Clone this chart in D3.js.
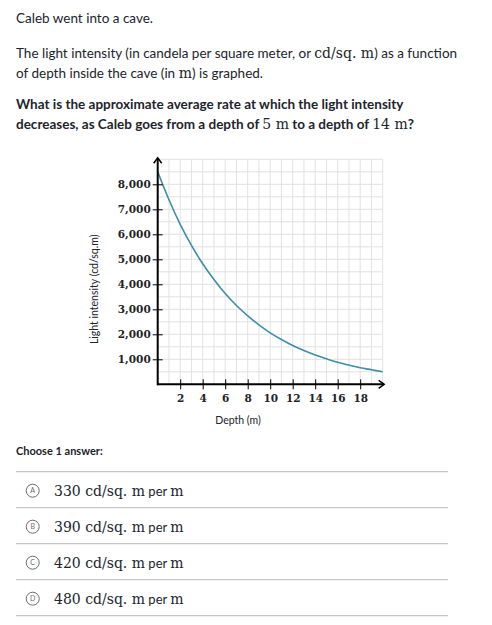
<!DOCTYPE html>
<html>
<head>
<meta charset="utf-8">
<script src="https://cdn.jsdelivr.net/npm/d3@7"></script>
<style>
  body { margin: 0; background: #fff; }
  text { font-family: Lato, "Open Sans", sans-serif; }
  .math { font-family: "DejaVu Serif", serif; }
</style>
</head>
<body>
<div id="container"></div>
<script>
/* CONSTANTS AND GLOBALS */
const width = 492, height = 625;

// depth (m) and light intensity (cd/sq. m)
const depths = [0, 1, 2, 3, 4, 5, 6, 7, 8, 9, 10, 11, 12, 13, 14, 15, 16, 17, 18, 19, 20];
const intensity = [8500, 7380, 6400, 5560, 4820, 4190, 3630, 3150, 2740, 2380, 2060,
                   1790, 1550, 1350, 1170, 1020, 880, 770, 660, 580, 500];
const xTicks = [2, 4, 6, 8, 10, 12, 14, 16, 18];
const yTicks = [1000, 2000, 3000, 4000, 5000, 6000, 7000, 8000];
const answerLetters = ["A", "B", "C", "D"];
const answerValues = ["330", "390", "420", "480"];

const svg = d3.select("#container").append("svg")
  .attr("width", width)
  .attr("height", height);

/* QUESTION TEXT */
function line(y, parts, weight) {
  const t = svg.append("text")
    .attr("x", 16).attr("y", y)
    .attr("font-size", 13.5)
    .attr("fill", "#21242c")
    .attr("font-weight", weight || "normal");
  parts.forEach(p => {
    t.append("tspan")
      .attr("class", p.m ? "math" : null)
      .attr("font-size", p.m ? 14 : null)
      .attr("font-weight", p.m ? "normal" : null)
      .text(p.t);
  });
}
line(23, [{t: "Caleb went into a cave."}]);
line(58, [{t: "The light intensity (in candela per square meter, or "}, {t: "cd/sq. m", m: true}, {t: ") as a function"}]);
line(78, [{t: "of depth inside the cave (in "}, {t: "m", m: true}, {t: ") is graphed."}]);
line(109, [{t: "What is the approximate average rate at which the light intensity"}], "bold");
line(129, [{t: "decreases, as Caleb goes from a depth of "}, {t: "5 m", m: true}, {t: " to a depth of "}, {t: "14 m", m: true}, {t: "?"}], "bold");

/* SCALES */
const x = d3.scaleLinear().domain([0, 20]).range([157.7, 382.7]);
const y = d3.scaleLinear().domain([0, 9000]).range([384.3, 159.3]);

/* GRID */
const grid = svg.append("g").attr("stroke", "#e2e2e2").attr("stroke-width", 1);
grid.selectAll("line.v")
  .data(d3.range(1, 21))
  .join("line")
  .attr("class", "v")
  .attr("x1", d => x(d)).attr("x2", d => x(d))
  .attr("y1", y(0)).attr("y2", y(9000));
grid.selectAll("line.h")
  .data(d3.range(500, 9001, 500))
  .join("line")
  .attr("class", "h")
  .attr("x1", x(0)).attr("x2", x(20))
  .attr("y1", d => y(d)).attr("y2", d => y(d));

/* CURVE */
svg.append("path")
  .datum(depths.map((d, i) => [d, intensity[i]]))
  .attr("fill", "none")
  .attr("stroke", "#3d8ea6")
  .attr("stroke-width", 1.6)
  .attr("d", d3.line().x(d => x(d[0])).y(d => y(d[1])).curve(d3.curveCatmullRom));

/* AXES */
const xAxis = svg.append("g")
  .attr("transform", `translate(0,${y(0)})`)
  .call(d3.axisBottom(x).tickValues(xTicks).tickSize(0).tickPadding(10));
xAxis.select(".domain").remove();
xAxis.selectAll("text")
  .attr("class", "math")
  .attr("font-size", 10.5).attr("font-weight", "bold").attr("fill", "#222");
xAxis.selectAll(".tick").append("line")
  .attr("y1", -5).attr("y2", 5).attr("stroke", "#000").attr("stroke-width", 1);

const yAxis = svg.append("g")
  .attr("transform", `translate(${x(0)},0)`)
  .call(d3.axisLeft(y).tickValues(yTicks).tickSize(0).tickPadding(7).tickFormat(d3.format(",")));
yAxis.select(".domain").remove();
yAxis.selectAll("text")
  .attr("class", "math")
  .attr("font-size", 10.5).attr("font-weight", "bold").attr("fill", "#222");
yAxis.selectAll(".tick").append("line")
  .attr("x1", -5).attr("x2", 5).attr("stroke", "#000").attr("stroke-width", 1);

// axis lines with arrows
svg.append("line")
  .attr("x1", x(0)).attr("x2", x(20) + 1)
  .attr("y1", y(0)).attr("y2", y(0))
  .attr("stroke", "#000").attr("stroke-width", 2);
svg.append("line")
  .attr("x1", x(0)).attr("x2", x(0))
  .attr("y1", y(0) + 1).attr("y2", y(9000) - 1)
  .attr("stroke", "#000").attr("stroke-width", 2);
svg.append("path")
  .attr("d", `M${x(20) - 4},${y(0) - 4} L${x(20) + 1.5},${y(0)} L${x(20) - 4},${y(0) + 4}`)
  .attr("fill", "none").attr("stroke", "#000").attr("stroke-width", 1.5);
svg.append("path")
  .attr("d", `M${x(0) - 4},${y(9000) + 4} L${x(0)},${y(9000) - 1.5} L${x(0) + 4},${y(9000) + 4}`)
  .attr("fill", "none").attr("stroke", "#000").attr("stroke-width", 1.5);

// axis titles
svg.append("text")
  .attr("x", 238).attr("y", 424)
  .attr("text-anchor", "middle")
  .attr("font-size", 10.5).attr("fill", "#21242c")
  .text("Depth (m)");
svg.append("text")
  .attr("transform", `translate(98,${y(3800)}) rotate(-90)`)
  .attr("text-anchor", "middle")
  .attr("font-size", 10.5).attr("fill", "#21242c")
  .text("Light intensity (cd/sq.m)");

/* ANSWERS */
svg.append("text")
  .attr("x", 16).attr("y", 455)
  .attr("font-size", 11).attr("font-weight", "bold").attr("fill", "#21242c")
  .text("Choose 1 answer:");

const rowY = d3.scaleBand().domain(answerLetters).range([471.7, 615.7]);

svg.selectAll("line.sep")
  .data([answerLetters[0]].concat(answerLetters))
  .join("line")
  .attr("class", "sep")
  .attr("x1", 16).attr("x2", 448)
  .attr("y1", (d, i) => i === 0 ? rowY(d) : rowY(d) + rowY.bandwidth())
  .attr("y2", (d, i) => i === 0 ? rowY(d) : rowY(d) + rowY.bandwidth())
  .attr("stroke", "#bababa").attr("stroke-width", 1);

const rows = svg.selectAll("g.ans")
  .data(answerLetters)
  .join("g")
  .attr("class", "ans")
  .attr("transform", d => `translate(0,${rowY(d) + rowY.bandwidth() / 2})`);

rows.append("circle")
  .attr("cx", 32.7).attr("cy", 1)
  .attr("r", 6.5)
  .attr("fill", "none").attr("stroke", "#6b6d72").attr("stroke-width", 1);
rows.append("text")
  .attr("x", 32.7).attr("y", 3.6)
  .attr("text-anchor", "middle")
  .attr("font-size", 7).attr("fill", "#6b6d72")
  .text(d => d);

const ansText = rows.append("text")
  .attr("x", 54).attr("y", 6)
  .attr("fill", "#21242c");
ansText.append("tspan").attr("class", "math").attr("font-size", 14)
  .text((d, i) => answerValues[i] + " cd/sq. m");
ansText.append("tspan").attr("font-size", 13).text(" per ");
ansText.append("tspan").attr("class", "math").attr("font-size", 14).text("m");
</script>
</body>
</html>
